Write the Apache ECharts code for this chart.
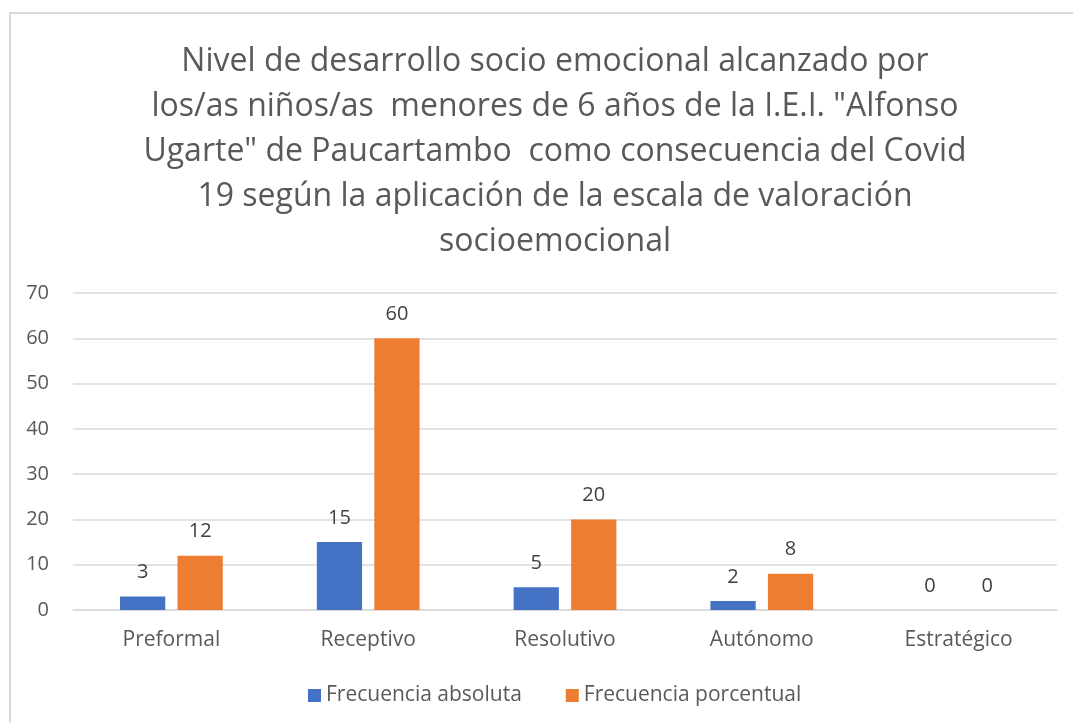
<!DOCTYPE html>
<html>
<head>
<meta charset="utf-8">
<script src="https://cdn.jsdelivr.net/npm/echarts@6/dist/echarts.min.js"></script>
<style>
  html, body { margin: 0; padding: 0; background: #fff; }
  #frame { position: absolute; left: 9px; top: 12px; width: 1100px; height: 760px;
           border-left: 2px solid #d9d9d9; border-top: 2px solid #d9d9d9; }
  #chart { position: absolute; left: 0; top: 0; width: 1073px; height: 723px; }
</style>
</head>
<body>
<div id="frame"></div>
<div id="chart"></div>
<script>
var categories = ["Preformal", "Receptivo", "Resolutivo", "Autónomo", "Estratégico"];
var absoluta = [3, 15, 5, 2, 0];
var porcentual = [12, 60, 20, 8, 0];
var titleLines = [
  "Nivel de desarrollo socio emocional alcanzado por",
  "los/as niños/as  menores de 6 años de la I.E.I. \"Alfonso",
  "Ugarte\" de Paucartambo  como consecuencia del Covid",
  "19 según la aplicación de la escala de valoración",
  "socioemocional"
];

var chart = echarts.init(document.getElementById("chart"));
var font = "'Open Sans', 'Noto Sans', sans-serif";
var txt = "#595959";

var labelStyle = {
  show: true,
  position: "top",
  distance: 14,
  color: "#404040",
  fontSize: 20,
  fontFamily: font
};

var option = {
  backgroundColor: "transparent",
  title: {
    text: titleLines.join("\n"),
    left: 550,
    textAlign: "center",
    top: 34,
    textStyle: {
      color: txt,
      fontSize: 32,
      fontWeight: "normal",
      fontFamily: font,
      lineHeight: 45
    }
  },
  legend: {
    bottom: 12,
    left: 303,
    itemWidth: 13,
    itemHeight: 13,
    itemGap: 44,
    icon: "rect",
    textStyle: { color: txt, fontSize: 21, fontFamily: font }
  },
  grid: { left: 73, right: 16, top: 293, bottom: 113 },
  xAxis: {
    type: "category",
    data: categories,
    axisTick: { show: false },
    axisLine: { lineStyle: { color: "#d9d9d9", width: 1.5 } },
    axisLabel: { color: txt, fontSize: 21, fontFamily: font, margin: 20 }
  },
  yAxis: {
    type: "value",
    min: 0,
    max: 70,
    interval: 10,
    axisLine: { show: false },
    axisTick: { show: false },
    axisLabel: { color: txt, fontSize: 20, fontFamily: font, margin: 24 },
    splitLine: { lineStyle: { color: "#d9d9d9", width: 1.5 } }
  },
  series: [
    {
      name: "Frecuencia absoluta",
      type: "bar",
      data: absoluta,
      barWidth: "23%",
      barGap: "27%",
      itemStyle: { color: "#4472c4" },
      label: labelStyle
    },
    {
      name: "Frecuencia porcentual",
      type: "bar",
      data: porcentual,
      barWidth: "23%",
      itemStyle: { color: "#ed7d31" },
      label: labelStyle
    }
  ]
};

chart.setOption(option);
</script>
</body>
</html>
